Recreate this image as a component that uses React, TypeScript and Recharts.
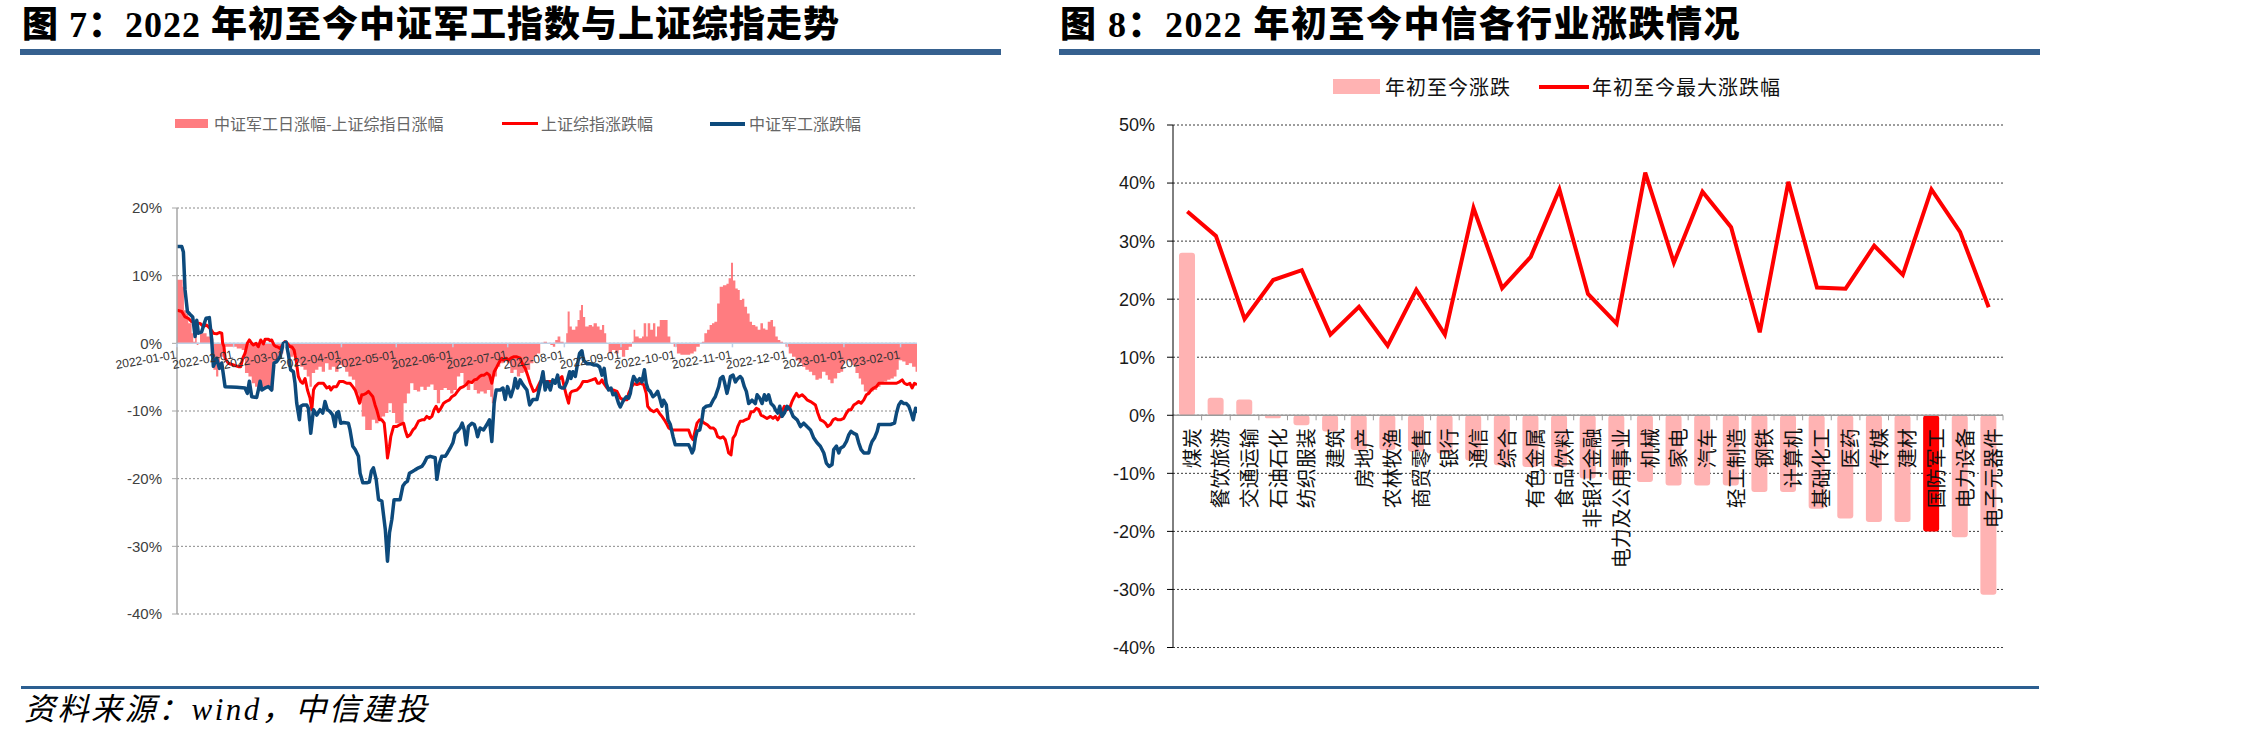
import React from 'react';
import {
  ComposedChart,
  Line,
  Area,
  Bar,
  Cell,
  XAxis,
  YAxis,
  CartesianGrid,
  ReferenceLine,
  ReferenceDot,
} from 'recharts';

const CJK = '"Noto Sans CJK SC", sans-serif';
const SANS = '"Liberation Sans", Arial, sans-serif';
const TITLE_FONT = '"Liberation Serif", "Noto Sans CJK SC", serif';

// ---------- 图 7 data: [days since 2022-01-01, % change] ----------
const monthTicks = [
  '2022-01-01', '2022-02-01', '2022-03-01', '2022-04-01', '2022-05-01', '2022-06-01', '2022-07-01',
  '2022-08-01', '2022-09-01', '2022-10-01', '2022-11-01', '2022-12-01', '2023-01-01', '2023-02-01',
];

const defenseIndex: [number, number][] = [
  [0, 14.3], [2.6, 14.3], [3.5, 13.5], [4.4, 7.9], [5.7, 4.7], [7.1, 4.3], [8.6, 3.9], [9.9, 1.0], [10.8, 3.4], [11.7, 1.5],
  [13.5, 1.7], [14.4, 2.5], [15.9, 3.7], [17.7, 3.8], [19, 0.5], [19.9, -3.4], [21.7, -2.2], [23.2, -3.7], [24.5, -2.9], [26.3, -6.4],
  [32.7, -6.5], [37.2, -6.6], [38.5, -7.4], [39.6, -5.6], [40.9, -7.9], [43.6, -8.0], [44.5, -6.9], [45.5, -5.6], [46.4, -6.9], [48.2, -6.6],
  [50, -6.4], [51.8, -6.9], [53.1, -2.9], [54.6, -2.7], [56.4, -2.0], [58.2, 0], [59.7, 0.2], [61, -1.7], [62.2, -3.9], [63.7, -4.2],
  [64.6, -5.9], [65.5, -8.8], [67, -11.3], [67.7, -9.3], [69.2, -9.1], [71, -9.1], [71.9, -9.6], [73.2, -13.3], [74.7, -9.8], [76.5, -10.6],
  [78.3, -9.8], [79.8, -10.3], [81, -8.6], [82.3, -9.8], [83.8, -10.1], [85.2, -10.6], [86.5, -12.3], [87.4, -10.3], [88.4, -10.1], [89.6, -11.8],
  [91.1, -11.7], [93.8, -11.8], [94.7, -12.8], [96.2, -15.2], [97.5, -15.7], [99.3, -16.7], [100.2, -19.2], [101.7, -20.6], [103.9, -20.6], [105.3, -20.5],
  [106.4, -18.9], [107.5, -18.4], [109, -20.1], [110.3, -23.1], [112.1, -23.3], [114, -27.5], [115.2, -32.2], [116.3, -28.0], [117.6, -26.0], [118.8, -23.1],
  [122.1, -23.1], [123.6, -21.1], [124.9, -20.6], [126.1, -20.4], [127.2, -19.2], [129.1, -18.9], [130.3, -18.7], [132.2, -18.4], [134, -18.2], [135.3, -17.7],
  [136.7, -16.9], [138.6, -16.7], [141.3, -16.9], [142.2, -20.1], [143.7, -17.7], [144.9, -16.7], [146.8, -16.7], [148, -16.2], [149.5, -15.5], [151, -14.7],
  [152.2, -13.3], [153.5, -13.0], [155, -12.5], [156.1, -11.8], [157.2, -12.8], [158.3, -15.0], [159.5, -12.3], [161.4, -11.8], [162.7, -12.0], [163.7, -12.8],
  [164.5, -13.8], [165.9, -12.5], [167.8, -12.8], [169.6, -12.0], [171, -11.3], [172.3, -14.5], [173.6, -8.8], [174.7, -6.9], [176.9, -6.9], [178.4, -6.6],
  [179.6, -8.3], [180.9, -6.4], [182.7, -7.9], [184.2, -6.6], [185.1, -5.2], [186.4, -6.6], [187.8, -5.4], [189.3, -6.1], [191.5, -6.9], [193, -9.1],
  [194.8, -8.3], [197, -8.3], [199, -5.9], [200.3, -4.2], [201.5, -6.9], [202.8, -5.7], [204.3, -6.9], [205.7, -5.4], [207, -5.9], [208.3, -4.7],
  [209.4, -6.4], [210.7, -6.6], [211.9, -6.6], [213.4, -5.7], [214.9, -4.2], [215.6, -5.2], [216.7, -4.2], [218, -4.9], [218.9, -3.5], [220.3, -1.5],
  [221.6, -1.1], [222.5, -2.5], [224.4, -3.0], [226.2, -3.0], [228, -3.2], [229.8, -3.2], [231.3, -3.5], [232.6, -4.7], [233.8, -3.7], [234.9, -5.9],
  [236.2, -6.9], [237.5, -6.6], [238.6, -7.6], [239.9, -7.4], [240.8, -8.1], [241.7, -8.9], [242.6, -9.4], [243.5, -8.9], [244.4, -8.4], [245.9, -7.9],
  [247.2, -8.1], [248.1, -7.4], [249, -5.9], [249.9, -4.9], [251.7, -5.7], [253.2, -5.2], [254.5, -5.7], [255.8, -3.9], [256.8, -5.9], [257.8, -6.8],
  [259, -7.1], [260.5, -7.9], [261.8, -7.6], [263.1, -7.1], [264.2, -8.1], [265.4, -9.3], [266.3, -8.4], [267.8, -9.1], [268.7, -11.3], [270, -12.0],
  [271.5, -13.8], [272.7, -15.0], [275.5, -15.0], [278.2, -15.0], [280, -15.0], [280.9, -15.5], [281.9, -16.2], [282.8, -15.7], [283.7, -14.0], [284.6, -13.0],
  [286.1, -12.8], [287.3, -11.3], [288.2, -9.6], [289.7, -9.3], [291.9, -9.2], [293.4, -8.4], [294.6, -7.9], [295.6, -7.1], [296.5, -6.4], [297.4, -5.2],
  [298.8, -4.9], [299.6, -5.7], [301, -7.4], [301.9, -6.4], [302.9, -4.9], [304.3, -4.7], [305.6, -5.7], [306.9, -5.2], [308.3, -4.9], [309.2, -5.2],
  [310.5, -6.4], [311.6, -7.1], [312.9, -8.9], [314.7, -8.4], [316.5, -8.9], [317.5, -7.6], [318.9, -8.1], [320.2, -8.9], [321.5, -7.6], [322.6, -8.4],
  [323.8, -7.6], [325.1, -8.9], [326.6, -9.3], [327.5, -9.8], [328.8, -10.3], [329.9, -9.3], [331.1, -10.8], [332.4, -10.3], [333.9, -9.3], [335.7, -9.8],
  [337.2, -10.8], [339.4, -11.3], [341.2, -12.3], [343, -11.8], [344.8, -12.3], [346.7, -12.8], [348.5, -14.0], [350.3, -14.7], [352.1, -15.2], [354, -16.2],
  [355.4, -17.7], [356.9, -18.2], [358.5, -17.9], [359.4, -15.7], [360.9, -15.2], [362.2, -16.2], [363.1, -15.5], [364.9, -15.2], [366.4, -14.5], [367.7, -13.5],
  [368.9, -13.0], [370.4, -13.3], [371.9, -13.5], [373.1, -14.7], [374.4, -15.7], [375.9, -16.2], [378.6, -16.2], [379.5, -15.2], [380.4, -14.5], [381.7, -14.0],
  [383.2, -13.0], [384.1, -12.0], [386.8, -12.0], [390.5, -12.0], [392.7, -11.8], [393.8, -10.3], [395, -9.1], [396.3, -8.6], [397.8, -8.9], [399.2, -8.9],
  [400.5, -9.3], [401.8, -10.3], [402.9, -11.3], [404.2, -9.6], [405, -10.3],
];

const shanghaiIndex: [number, number][] = [
  [0, 4.9], [2.6, 4.7], [4.4, 3.9], [6.2, 3.7], [8, 3.2], [9.9, 3.05], [12.6, 2.95], [14.4, 2.5], [16.2, 2.7], [18.1, 2.2],
  [19.9, 1.5], [21.7, 1.4], [23.2, 1.6], [24.5, 1.5], [25, 0], [25.7, -0.5], [26.3, -2.2], [28.1, -2.95], [30.9, -3.2], [33.6, -3.45],
  [34.9, -3.45], [36, -2.2], [37.2, -1.5], [38.5, 0], [39.6, 0.5], [40.9, 0], [41.8, -0.25], [43.3, 0], [44.5, -0.5], [45.8, 0.5],
  [47.3, -0.1], [48.2, 0.6], [50, 0.6], [50.9, 0.4], [51.8, 0.5], [53.1, -0.25], [54.2, -0.5], [54.9, -0.5], [56.4, -0.75], [57.9, -0.25],
  [59.1, 0.25], [60.4, 0], [61.9, -0.5], [62.8, -0.5], [64.1, -1.0], [65.2, -2.5], [66.4, -4.9], [67.7, -5.65], [68.8, -5.9], [70.1, -5.2],
  [71.4, -6.9], [72.8, -8.1], [73.8, -9.8], [74.7, -6.9], [75.6, -6.4], [77.4, -5.9], [80.1, -5.9], [82, -6.6], [83.4, -6.4], [84.2, -6.9],
  [85.6, -6.4], [87.4, -6.4], [88.9, -5.65], [91.1, -5.65], [92.9, -5.9], [94.7, -5.9], [96.2, -6.4], [97.5, -6.9], [98.8, -7.9], [99.9, -8.85],
  [101.1, -7.6], [102, -7.6], [103.5, -7.4], [104.8, -7.1], [105.7, -7.4], [107.2, -7.9], [108.4, -9.1], [109.3, -9.8], [110.8, -11.3], [112.1, -11.3],
  [113.4, -11.8], [114.5, -14.7], [115.2, -16.95], [116.3, -15.2], [117, -13.8], [118.5, -12.3], [120.3, -12.3], [122.1, -12.0], [124, -11.8], [124.9, -12.8],
  [126.1, -13.8], [127.6, -13.5], [129.1, -12.8], [130.3, -12.5], [132.2, -11.5], [134, -11.3], [135.3, -11.3], [136.7, -10.8], [138.2, -11.1], [139.5, -10.8],
  [140.7, -9.8], [141.8, -9.3], [143.1, -10.1], [144.4, -9.6], [145.9, -8.85], [147.3, -8.6], [149.1, -8.35], [150.4, -7.9], [152.2, -7.6], [153.5, -7.1],
  [155, -6.6], [156.8, -6.4], [158.3, -6.1], [159.5, -5.65], [161.4, -5.8], [162.7, -5.4], [164.1, -5.3], [165.6, -4.9], [166.8, -4.7], [168.1, -4.7],
  [169.6, -4.4], [171, -4.7], [172.3, -5.9], [173.6, -4.2], [175.1, -3.45], [176.5, -2.7], [177.8, -2.2], [178.7, -2.5], [180.2, -2.2], [181.5, -2.5],
  [182.7, -2.2], [184.2, -2.0], [186, -2.0], [187.8, -2.2], [189.3, -3.2], [190.6, -3.7], [191.9, -4.7], [193.3, -5.9], [195.1, -7.1], [196.6, -6.9],
  [198.8, -5.65], [202.5, -5.65], [206.1, -5.65], [208.8, -5.4], [210.7, -4.9], [211.9, -6.4], [213, -7.6], [214.3, -8.85], [215.2, -7.4], [216.1, -7.1],
  [218.9, -6.9], [220.7, -6.4], [222.2, -5.65], [224.4, -5.65], [227.1, -5.4], [228.9, -5.2], [230.2, -5.9], [231.3, -5.9], [232.6, -5.4], [233.5, -5.9],
  [235.3, -6.6], [237.1, -6.9], [239, -6.9], [240.8, -7.1], [242.6, -8.1], [244.4, -8.35], [246.3, -8.35], [247.2, -7.4], [248.5, -6.6], [249.9, -5.95],
  [251.7, -6.1], [253.6, -5.9], [255.4, -6.1], [256.8, -7.4], [257.6, -9.3], [259, -9.8], [260.9, -10.1], [262.7, -9.8], [264.2, -10.4], [265.4, -10.8],
  [266.7, -11.3], [268.2, -12.0], [269.1, -12.5], [270.9, -12.8], [275.5, -12.8], [280, -12.8], [281.3, -13.8], [282.4, -14.25], [283.7, -12.8], [284.6, -11.8],
  [286.1, -11.3], [287.3, -11.5], [288.6, -11.8], [290.1, -12.0], [291.9, -12.5], [293.4, -12.5], [294.6, -12.8], [295.9, -13.8], [297.4, -14.0], [298.8, -13.8],
  [300.1, -14.25], [301, -15.2], [301.9, -16.2], [303.2, -16.5], [304.3, -14.0], [305.6, -13.5], [306.9, -12.3], [308.3, -11.5], [309.8, -11.5], [311.1, -11.3],
  [312.9, -11.1], [314.2, -10.1], [315.6, -10.1], [317.1, -9.6], [318.4, -9.8], [319.6, -10.6], [321.1, -10.8], [322.9, -11.1], [324.8, -10.8], [326.2, -11.1],
  [327.5, -10.8], [328.8, -11.3], [329.9, -10.8], [331.1, -10.1], [332.4, -9.3], [333.9, -9.8], [335.3, -9.6], [336.6, -8.6], [337.9, -7.9], [339, -7.4],
  [340.3, -7.9], [342.1, -7.6], [343.4, -7.9], [344.8, -8.35], [346.7, -8.6], [348.1, -8.85], [349.4, -9.1], [350.7, -10.3], [352.1, -11.3], [353.6, -11.5],
  [354.9, -11.8], [356.1, -12.3], [357.6, -12.0], [359.1, -11.3], [360.4, -11.1], [361.6, -11.3], [363.1, -11.3], [364.9, -11.1], [366.4, -10.3], [367.7, -9.8],
  [368.9, -9.8], [370.4, -9.1], [371.9, -8.85], [373.1, -8.6], [374.4, -8.85], [375.9, -8.35], [377.3, -7.6], [378.6, -7.4], [379.9, -6.9], [381.3, -6.6],
  [382.8, -6.4], [384.1, -5.9], [386.8, -5.9], [390.5, -5.9], [393.8, -5.9], [395.6, -5.65], [396.9, -5.4], [398.1, -5.9], [399.6, -6.1], [401.1, -5.9],
  [402.3, -6.6], [403.6, -5.9], [405, -6.1],
];

const dailySpread: [number, number][] = [
  [0, 9.4], [2.6, 9.4], [3.1, 8.35], [3.8, 4.9], [4.9, 4.4], [6.2, 2.95], [8, 1.5], [8.9, 0.25], [9.9, 1.0], [10.8, -0.25],
  [11.7, 0], [12.6, 1.5], [14.4, 1.5], [16.2, 1.0], [18.1, 1.2], [19, 0.7], [19.9, -3.9], [21.4, -4.9], [22.6, -2.95], [23.5, -2.0],
  [25.4, -0.5], [27.2, -0.5], [29, -0.5], [32.7, -0.75], [35.4, -1.0], [37.2, -4.4], [39.1, -4.9], [40.9, -5.9], [42.7, -6.4], [44, -6.9],
  [45.5, -6.4], [47.3, -6.6], [49.1, -6.4], [50.9, -6.9], [52.8, -2.95], [54.6, -2.2], [56.4, -1.5], [58.2, -0.5], [60.1, -0.25], [61.9, -2.0],
  [63.7, -1.7], [65.5, -2.95], [67.4, -3.45], [69.2, -3.9], [71, -4.9], [72.5, -6.4], [73.8, -4.4], [75.6, -3.9], [77.4, -3.45], [79.2, -4.2],
  [81, -2.95], [82.9, -3.9], [84.7, -3.45], [86.5, -4.2], [88.4, -3.2], [90.2, -3.45], [92, -4.2], [93.8, -4.9], [95.7, -5.4], [97.5, -7.4],
  [99.3, -8.85], [101.1, -10.8], [103, -12.8], [104.8, -12.8], [106.6, -11.3], [108.4, -11.8], [110.3, -11.3], [112.1, -10.8], [113.9, -10.3], [115.7, -8.85],
  [117.6, -10.3], [119.4, -11.8], [121.2, -11.8], [123, -11.8], [124, -8.85], [125.8, -7.4], [127.6, -5.9], [129.4, -6.9], [131.3, -7.1], [133.1, -6.4],
  [134.9, -6.9], [136.7, -6.4], [138.6, -6.1], [140.4, -6.9], [142.2, -8.85], [144, -6.9], [145.9, -6.6], [147.7, -6.9], [149.5, -7.4], [151.3, -6.9],
  [153.2, -4.9], [155, -4.4], [156.8, -6.1], [158.6, -6.9], [160.5, -5.9], [162.3, -6.9], [164.1, -7.4], [165.9, -7.1], [167.8, -7.4], [169.6, -6.9],
  [171.4, -7.9], [172.3, -8.85], [173.2, -4.9], [175.1, -3.45], [176.9, -2.95], [178.7, -2.2], [180.5, -2.95], [182.4, -4.4], [184.2, -3.9], [186, -4.9],
  [187.8, -4.4], [189.7, -4.2], [191.5, -3.9], [193.3, -2.95], [195.1, -2.0], [197, -1.5], [198.8, 0], [200.6, 0.25], [202.5, -0.1], [204.3, -0.25],
  [205.7, -0.5], [207, 0.5], [208.3, 1.0], [209.8, 0.25], [211.6, 0], [213, 1.5], [213.8, 4.7], [214.9, 2.5], [216.1, 2.0], [218, 2.5],
  [219.2, 3.45], [220.3, 4.9], [221.1, 5.65], [222.2, 3.9], [223.4, 2.5], [225.3, 2.7], [227.1, 2.5], [228, 2.95], [229.8, 2.5], [231.3, 2.0],
  [232.6, 2.7], [233.8, 1.5], [234.9, 0], [236.2, -1.5], [238.1, -1.0], [239.9, -1.5], [241.7, -1.0], [243.5, -2.0], [245.3, -1.0], [247.2, -0.5],
  [249, 0.25], [249.9, 2.0], [250.8, 1.0], [252.7, 0.75], [254.5, 1.0], [255.4, 2.95], [256.8, 1.0], [257.6, 2.95], [259, 2.0], [260.5, 2.95],
  [261.8, 1.0], [262.7, 2.5], [264.2, 3.45], [267.3, 3.45], [268.5, 1.0], [270, 0], [271.8, -0.5], [273.6, -1.5], [275.5, -1.7], [279.1, -1.7],
  [280.9, -1.5], [282.8, -1.2], [284.2, -0.5], [286.1, 0], [287.3, 0.25], [288.6, 1.5], [290.1, 2.0], [291.5, 2.7], [292.8, 2.95], [294.1, 3.2],
  [295.6, 5.9], [297, 8.35], [298.8, 8.6], [300.7, 8.8], [301.9, 9.6], [303.2, 11.9], [304.3, 9.3], [305.6, 8.1], [306.9, 7.9], [308, 6.4],
  [309.2, 6.6], [310.5, 5.4], [312, 4.4], [313.4, 3.2], [314.7, 2.7], [316.5, 2.5], [317.8, 2.0], [319.3, 2.95], [320.7, 2.2], [322, 2.0],
  [323.3, 3.2], [324.8, 3.45], [326.2, 2.5], [327.5, 1.0], [328.8, 0.5], [330.2, 0.25], [331.7, 0], [333, -0.5], [334.8, -1.5], [336.6, -2.0],
  [338.5, -2.5], [340.3, -2.95], [342.1, -3.45], [343.9, -3.9], [345.8, -4.2], [347.6, -4.7], [349.4, -5.4], [351.2, -5.2], [353, -4.2], [354.9, -4.7],
  [356.2, -5.4], [357.6, -5.9], [359.4, -5.2], [361.3, -4.4], [363.1, -4.2], [364.6, -2.95], [365.8, -2.5], [367.7, -2.7], [369.5, -3.2], [371.3, -4.4],
  [373.1, -5.2], [374.4, -6.1], [375.9, -7.1], [377.7, -7.4], [379.5, -7.1], [381.3, -6.9], [383.2, -6.4], [385, -5.9], [386.8, -5.65], [388.7, -5.4],
  [390.5, -5.2], [392.3, -4.9], [393.8, -3.9], [395, -2.5], [396.9, -2.7], [398.7, -3.2], [400.5, -2.95], [402.3, -3.45], [404.2, -4.2], [405, -3.9],
];

const indexTicks = [20, 10, 0, -10, -20, -30, -40];

// ---------- 图 8 data ----------
const industries = [
  '煤炭', '餐饮旅游', '交通运输', '石油石化', '纺织服装', '建筑', '房地产', '农林牧渔', '商贸零售', '银行',
  '通信', '综合', '有色金属', '食品饮料', '非银行金融', '电力及公用事业', '机械', '家电', '汽车', '轻工制造',
  '钢铁', '计算机', '基础化工', '医药', '传媒', '建材', '国防军工', '电力设备', '电子元器件',
];
const ytdChange = [
  28.0, 3.0, 2.7, -0.5, -1.7, -2.8, -6.0, -6.0, -6.3, -6.6,
  -7.8, -8.6, -8.9, -8.9, -10.9, -11.2, -11.5, -12.1, -12.1, -12.1,
  -13.2, -13.2, -16.1, -17.8, -18.4, -18.4, -20.0, -21.0, -30.9,
];
const maxSwing = [
  35.1, 30.9, 16.6, 23.3, 25.0, 13.9, 18.7, 12.0, 21.6, 13.9,
  35.7, 21.9, 27.3, 38.9, 20.9, 15.8, 41.8, 26.3, 38.5, 32.4,
  14.3, 40.2, 22.0, 21.8, 29.2, 24.2, 38.9, 31.6, 18.6,
];
const highlighted = '国防军工';
const industryTicks = [50, 40, 30, 20, 10, 0, -10, -20, -30, -40];

// ---------- helpers ----------
const DAY_MS = 86400000;
const dayOf = (s: string) => {
  const [y, m, d] = s.split('-').map(Number);
  return Math.round((Date.UTC(y, m - 1, d) - Date.UTC(2022, 0, 1)) / DAY_MS);
};
const toRows = (pairs: [number, number][]) => pairs.map(([d, v]) => ({ d, v }));

const defenseRows = toRows(defenseIndex);
const shanghaiRows = toRows(shanghaiIndex);
const spreadRows = toRows(dailySpread);
const industryRows = industries.map((name, i) => ({ name, chg: ytdChange[i], max: maxSwing[i] }));

const pct = (v: number) => `${v}%`;

// left chart geometry
const L_W = 1000;
const L_H = 660;
const L_MARGIN = { top: 208, right: 83, bottom: 46, left: 0 };
const L_AXIS_W = 177;

// right chart geometry
const R_W = 1040;
const R_H = 700;
const R_MARGIN = { top: 125, right: 37, bottom: 52.5, left: 0 };
const R_AXIS_W = 173;
const R_BAND = (R_W - R_MARGIN.right - R_AXIS_W) / industries.length;

function MonthMark({ cx, cy, label }: { cx: number; cy: number; label: string }) {
  const ty = cy + 15;
  return (
    <g>
      <line x1={cx} y1={cy} x2={cx} y2={cy + 4} stroke="#BFD0E6" strokeWidth={1.5} />
      <text
        x={cx}
        y={ty}
        textAnchor="end"
        transform={`rotate(-10 ${cx} ${ty})`}
        fontSize={12}
        fontFamily={SANS}
        fill="#333"
      >
        {label}
      </text>
    </g>
  );
}

function IndustryMark({ cx, cy, label }: { cx: number; cy: number; label: string }) {
  const tx = cx + 4;
  const ty = cy + 13;
  const bx = cx + R_BAND / 2;
  return (
    <g>
      <line x1={bx} y1={cy} x2={bx} y2={cy + 5} stroke="#9A9A9A" strokeWidth={1} />
      <text
        x={tx}
        y={ty}
        textAnchor="end"
        dominantBaseline="central"
        transform={`rotate(-90 ${tx} ${ty})`}
        fontSize={20}
        fontFamily={CJK}
        fill="#111"
      >
        {label}
      </text>
    </g>
  );
}

function IndexChart() {
  return (
    <ComposedChart width={L_W} height={L_H} margin={L_MARGIN}>
      <CartesianGrid vertical={false} stroke="#8a8a8a" strokeDasharray="2 2" />
      <XAxis type="number" dataKey="d" domain={[0, 405]} hide allowDataOverflow />
      <YAxis
        type="number"
        domain={[-40, 20]}
        ticks={indexTicks}
        interval={0}
        width={L_AXIS_W}
        tickFormatter={pct}
        axisLine={{ stroke: '#A6A6A6', strokeWidth: 1.5 }}
        tickLine={{ stroke: '#A6A6A6' }}
        tickSize={5}
        tickMargin={10}
        tick={{ fill: '#404040', fontSize: 15, fontFamily: SANS }}
      />
      <Area
        data={spreadRows}
        dataKey="v"
        type="stepAfter"
        baseValue={0}
        fill="#FF7C80"
        fillOpacity={1}
        stroke="none"
        isAnimationActive={false}
      />
      <ReferenceLine y={0} stroke="#BFD0E6" strokeWidth={1.5} />
      <Line
        data={shanghaiRows}
        dataKey="v"
        type="linear"
        stroke="#FF0000"
        strokeWidth={3}
        dot={false}
        strokeLinejoin="round"
        isAnimationActive={false}
      />
      <Line
        data={defenseRows}
        dataKey="v"
        type="linear"
        stroke="#0D4A7C"
        strokeWidth={3.5}
        dot={false}
        strokeLinejoin="round"
        isAnimationActive={false}
      />
      {monthTicks.map((m) => (
        <ReferenceDot
          key={m}
          x={dayOf(m)}
          y={0}
          r={0}
          ifOverflow="visible"
          shape={(p: any) => <MonthMark cx={p.cx} cy={p.cy} label={m} />}
        />
      ))}
    </ComposedChart>
  );
}

function IndustryChart() {
  return (
    <ComposedChart width={R_W} height={R_H} data={industryRows} margin={R_MARGIN}>
      <CartesianGrid vertical={false} stroke="#3a3a3a" strokeDasharray="2 2" />
      <XAxis dataKey="name" type="category" hide />
      <YAxis
        type="number"
        domain={[-40, 50]}
        ticks={industryTicks}
        interval={0}
        width={R_AXIS_W}
        tickFormatter={pct}
        axisLine={{ stroke: '#000', strokeWidth: 1 }}
        tickLine={{ stroke: '#000' }}
        tickSize={6}
        tickMargin={12}
        tick={{ fill: '#1a1a1a', fontSize: 18, fontFamily: SANS }}
      />
      <ReferenceLine y={0} stroke="#9A9A9A" strokeWidth={1.5} />
      <Bar dataKey="chg" barSize={16} radius={3} isAnimationActive={false}>
        {industryRows.map((r) => (
          <Cell key={r.name} fill={r.name === highlighted ? '#FF0000' : '#FFB3B3'} />
        ))}
      </Bar>
      <Line
        dataKey="max"
        type="linear"
        stroke="#FF0000"
        strokeWidth={4}
        dot={false}
        isAnimationActive={false}
      />
      {industries.map((c) => (
        <ReferenceDot
          key={c}
          x={c}
          y={0}
          r={0}
          ifOverflow="visible"
          shape={(p: any) => <IndustryMark cx={p.cx} cy={p.cy} label={c} />}
        />
      ))}
    </ComposedChart>
  );
}

const abs = (s: React.CSSProperties): React.CSSProperties => ({ position: 'absolute', ...s });

export default function App() {
  return (
    <div style={abs({ left: 0, top: 0, width: 2244, height: 742, background: '#fff', overflow: 'hidden' })}>
      {/* titles */}
      <div
        style={abs({
          left: 22, top: 6, fontFamily: TITLE_FONT, fontWeight: 900, fontSize: 36, lineHeight: '38px',
          letterSpacing: 1, color: '#000', whiteSpace: 'nowrap',
        })}
      >
        图 7：2022 年初至今中证军工指数与上证综指走势
      </div>
      <div style={abs({ left: 20, top: 49, width: 981, height: 6, background: '#36618F' })} />
      <div
        style={abs({
          left: 1060, top: 6, fontFamily: TITLE_FONT, fontWeight: 900, fontSize: 36, lineHeight: '38px',
          letterSpacing: 1.5, color: '#000', whiteSpace: 'nowrap',
        })}
      >
        图 8：2022 年初至今中信各行业涨跌情况
      </div>
      <div style={abs({ left: 1059, top: 49, width: 981, height: 6, background: '#36618F' })} />

      {/* charts */}
      <div style={abs({ left: 0, top: 0, width: L_W, height: L_H })}>
        <IndexChart />
      </div>
      <div style={abs({ left: 1000, top: 0, width: R_W, height: R_H })}>
        <IndustryChart />
      </div>

      {/* legend, figure 7 */}
      <div style={abs({ left: 175, top: 119, width: 33, height: 9, background: '#FF7C80' })} />
      <div style={abs({ left: 214, top: 113, fontFamily: CJK, fontSize: 16, lineHeight: '20px', color: '#666', whiteSpace: 'nowrap' })}>
        中证军工日涨幅-上证综指日涨幅
      </div>
      <div style={abs({ left: 502, top: 122, width: 36, height: 3, background: '#FF0000' })} />
      <div style={abs({ left: 541, top: 113, fontFamily: CJK, fontSize: 16, lineHeight: '20px', color: '#666', whiteSpace: 'nowrap' })}>
        上证综指涨跌幅
      </div>
      <div style={abs({ left: 710, top: 122, width: 35, height: 3.5, background: '#0D4A7C' })} />
      <div style={abs({ left: 749, top: 113, fontFamily: CJK, fontSize: 16, lineHeight: '20px', color: '#666', whiteSpace: 'nowrap' })}>
        中证军工涨跌幅
      </div>

      {/* legend, figure 8 */}
      <div style={abs({ left: 1333, top: 79, width: 47, height: 15, background: '#FFB3B3' })} />
      <div style={abs({ left: 1385, top: 74, fontFamily: CJK, fontSize: 20, lineHeight: '26px', letterSpacing: 1, color: '#111', whiteSpace: 'nowrap' })}>
        年初至今涨跌
      </div>
      <div style={abs({ left: 1539, top: 85, width: 50, height: 4, background: '#FF0000' })} />
      <div style={abs({ left: 1592, top: 74, fontFamily: CJK, fontSize: 20, lineHeight: '26px', letterSpacing: 1, color: '#111', whiteSpace: 'nowrap' })}>
        年初至今最大涨跌幅
      </div>

      {/* footer */}
      <div style={abs({ left: 21, top: 686, width: 2018, height: 2.5, background: '#2C5F91' })} />
      <div
        style={abs({
          left: 24, top: 693, fontFamily: TITLE_FONT, fontStyle: 'italic', fontSize: 31, lineHeight: '34px',
          letterSpacing: 2.5, color: '#000', whiteSpace: 'nowrap',
        })}
      >
        资料来源：wind，中信建投
      </div>
    </div>
  );
}
